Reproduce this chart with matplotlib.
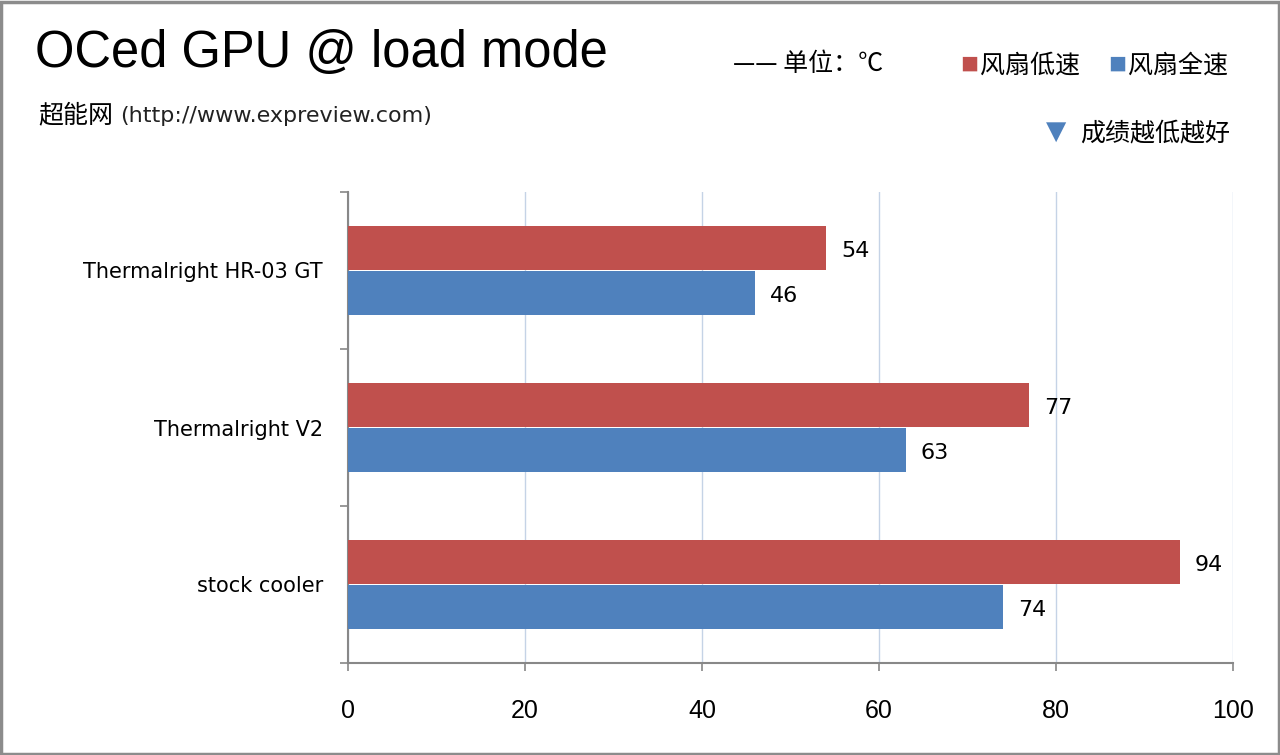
import matplotlib
matplotlib.use('Agg')
import matplotlib.pyplot as plt
from matplotlib.patches import Rectangle
import numpy as np

plt.rcParams['font.family'] = ['Liberation Sans', 'Noto Sans CJK SC', 'DejaVu Sans']

coolers = ['Thermalright HR-03 GT', 'Thermalright V2', 'stock cooler']
low_speed = [54, 77, 94]    # 风扇低速
full_speed = [46, 63, 74]   # 风扇全速
x_ticks = [0, 20, 40, 60, 80, 100]

red = '#C0504D'
blue = '#4F81BD'
cjk = ['Noto Sans CJK SC', 'DejaVu Sans']

fig = plt.figure(figsize=(12.8, 7.55), dpi=100)
ax = fig.add_axes([348 / 1280, 1 - 663 / 755, (1233 - 348) / 1280, (663 - 192) / 755])

y = np.arange(len(coolers))
h = 0.28
off = 0.142
ax.barh(y - off, low_speed, height=h, color=red, zorder=3)
ax.barh(y + off, full_speed, height=h, color=blue, zorder=3)

for yi, v in zip(y, low_speed):
    ax.text(v + 1.7, yi - off + 0.02, str(v), va='center', ha='left', fontsize=16, family='DejaVu Sans')
for yi, v in zip(y, full_speed):
    ax.text(v + 1.7, yi + off + 0.02, str(v), va='center', ha='left', fontsize=16, family='DejaVu Sans')

ax.set_xlim(0, 100)
ax.set_ylim(2.5, -0.5)
ax.set_xticks(x_ticks)
ax.set_xticklabels([str(t) for t in x_ticks], fontsize=18,
                   family=['Liberation Sans Narrow', 'Liberation Sans'])
ax.set_yticks(y)
ax.set_yticklabels(coolers, fontsize=15, family='DejaVu Sans')
ax.tick_params(axis='y', length=0, pad=18)
ax.tick_params(axis='x', length=6, color='#888888', pad=20, width=1.2)
ax.set_yticks([-0.5, 0.5, 1.5, 2.5], minor=True)
ax.tick_params(axis='y', which='minor', length=6, color='#888888', width=1.2)
ax.xaxis.grid(True, color='#C5D3E6', linewidth=1, zorder=0)
for s in ['top', 'right']:
    ax.spines[s].set_visible(False)
for s in ['left', 'bottom']:
    ax.spines[s].set_color('#888888')
    ax.spines[s].set_linewidth(1.5)

# header texts
fig.text(35 / 1280, 1 - 54 / 755, 'OCed GPU @ load mode', fontsize=36.5, va='center', ha='left')
fig.text(38 / 1280, 1 - 115 / 755, '超能网', fontsize=18, va='center', ha='left', family=cjk)
fig.text(120 / 1280, 1 - 116 / 755, '(http://www.expreview.com)', fontsize=16, va='center',
         ha='left', color='#222222', family='DejaVu Sans')
fig.text(733 / 1280, 1 - 64 / 755, '—— 单位：℃', fontsize=18, va='center', ha='left', family=cjk)
fig.text(960 / 1280, 1 - 66 / 755, '■', fontsize=13, va='center', ha='left', color=red, family=cjk)
fig.text(980 / 1280, 1 - 66 / 755, '风扇低速', fontsize=18, va='center', ha='left', family=cjk)
fig.text(1108 / 1280, 1 - 66 / 755, '■', fontsize=13, va='center', ha='left', color=blue, family=cjk)
fig.text(1128 / 1280, 1 - 66 / 755, '风扇全速', fontsize=18, va='center', ha='left', family=cjk)
fig.text(1046 / 1280, 1 - 132 / 755, '▼', fontsize=19, va='center', ha='left', color=blue,
         family=['DejaVu Sans'])
fig.text(1080 / 1280, 1 - 133 / 755, '成绩越低越好', fontsize=18, va='center', ha='left', family=cjk)

fig.patches.append(Rectangle((0.001, 0.001), 0.998, 0.997, transform=fig.transFigure,
                             fill=False, edgecolor='#8C8C8C', linewidth=2.5))

fig.savefig('out.png', dpi=100)
